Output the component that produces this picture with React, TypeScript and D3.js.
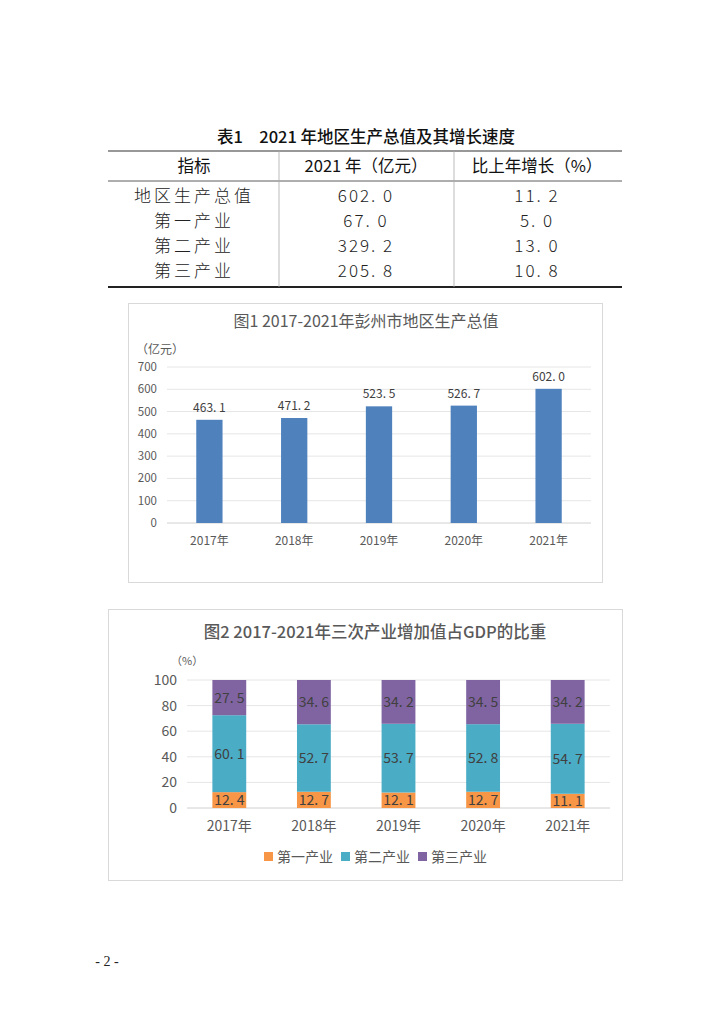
import React from 'react';
import * as d3 from 'd3';

// 表1 数据
const tableHeaders = ['指标', '2021 年（亿元）', '比上年增长（%）'];
const tableRowNames = ['地区生产总值', '第一产业', '第二产业', '第三产业'];
const tableValues = ['602.0', '67.0', '329.2', '205.8'];
const tableGrowth = ['11.2', '5.0', '13.0', '10.8'];

// 图1 数据
const years = ['2017年', '2018年', '2019年', '2020年', '2021年'];
const gdp = [463.1, 471.2, 523.5, 526.7, 602.0];
const gdpTicks = [0, 100, 200, 300, 400, 500, 600, 700];

// 图2 数据
const seriesNames = ['第一产业', '第二产业', '第三产业'];
const primary = [12.4, 12.7, 12.1, 12.7, 11.1];
const secondary = [60.1, 52.7, 53.7, 52.8, 54.7];
const tertiary = [27.5, 34.6, 34.2, 34.5, 34.2];
const shareTicks = [0, 20, 40, 60, 80, 100];

const sans = '"Noto Sans CJK SC", "Noto Sans", sans-serif';
const gray = '#595959';
const seriesColors = ['#F79646', '#4BACC6', '#8064A2'];

// 表格数字里的点后面带个空格，像原文那样
const fmtWide = (s: string) => s.replace('.', '. ');

const Table = () => {
  const rowY = [196, 221, 246, 271];
  const colX = [194, 366, 537];
  return (
    <g>
      <text x={366} y={143} textAnchor="middle" fontFamily={sans} fontSize={16.5} fontWeight={500} fill="#111">
        表1　2021 年地区生产总值及其增长速度
      </text>
      <line x1={108} x2={622} y1={151} y2={151} stroke="#333" strokeWidth={1.2} />
      <line x1={108} x2={622} y1={181} y2={181} stroke="#333" strokeWidth={0.8} />
      <line x1={108} x2={622} y1={287} y2={287} stroke="#222" strokeWidth={1.8} />
      <line x1={279} x2={279} y1={151} y2={287} stroke="#aaa" strokeWidth={0.8} />
      <line x1={454} x2={454} y1={151} y2={287} stroke="#aaa" strokeWidth={0.8} />
      {tableHeaders.map((h, i) => (
        <text key={h} x={colX[i]} y={172} textAnchor="middle" fontFamily={sans} fontSize={16.5} fill="#111">{h}</text>
      ))}
      {tableRowNames.map((name, i) => (
        <g key={name} fontFamily={sans} fontSize={17} fontWeight={300} fill="#222">
          <text x={colX[0]} y={rowY[i] + 6} textAnchor="middle" letterSpacing={3}>{name}</text>
          <text x={colX[1]} y={rowY[i] + 6} textAnchor="middle" letterSpacing={2}>{fmtWide(tableValues[i])}</text>
          <text x={colX[2]} y={rowY[i] + 6} textAnchor="middle" letterSpacing={2}>{fmtWide(tableGrowth[i])}</text>
        </g>
      ))}
    </g>
  );
};

const GdpChart = () => {
  const x = d3.scaleBand<string>().domain(years).range([167, 591]).paddingInner(0.69).paddingOuter(0.345);
  const y = d3.scaleLinear().domain([0, 700]).range([523, 367]);
  return (
    <g>
      <rect x={128.5} y={303.5} width={474} height={279} fill="#fff" stroke="#d9d9d9" />
      <text x={366} y={327} textAnchor="middle" fontFamily={sans} fontSize={16} fill={gray}>
        图1 2017-2021年彭州市地区生产总值
      </text>
      <text x={136} y={354} fontFamily={sans} fontSize={12} fill={gray}>（亿元）</text>
      {gdpTicks.map(t => (
        <g key={t}>
          <line x1={167} x2={591} y1={y(t)} y2={y(t)} stroke={t === 0 ? '#d0d0d0' : '#e6e6e6'} />
          <text x={157} y={y(t) + 4} textAnchor="end" fontFamily={sans} fontSize={11.5} fill={gray}>{t}</text>
        </g>
      ))}
      {gdp.map((v, i) => (
        <g key={years[i]}>
          <rect x={x(years[i])} y={y(v)} width={x.bandwidth()} height={y(0) - y(v)} fill="#4F81BD" />
          <text x={x(years[i])! + x.bandwidth() / 2} y={y(v) - 8} textAnchor="middle" fontFamily={sans} fontSize={12} fill="#404040">
            {fmtWide(v.toFixed(1))}
          </text>
          <text x={x(years[i])! + x.bandwidth() / 2} y={545} textAnchor="middle" fontFamily={sans} fontSize={12} fill={gray}>
            {years[i]}
          </text>
        </g>
      ))}
    </g>
  );
};

const ShareChart = () => {
  const x = d3.scaleBand<string>().domain(years).range([187, 610]).paddingInner(0.6).paddingOuter(0.3);
  const y = d3.scaleLinear().domain([0, 100]).range([808, 680]);
  const rows = years.map((yr, i) => ({ year: yr, s0: primary[i], s1: secondary[i], s2: tertiary[i] }));
  const stacked = d3.stack<any>().keys(['s0', 's1', 's2'])(rows);
  return (
    <g>
      <rect x={108.5} y={609.5} width={514} height={271} fill="#fff" stroke="#d9d9d9" />
      <text x={375} y={638} textAnchor="middle" fontFamily={sans} fontSize={16.5} fontWeight={500} fill={gray}>
        图2 2017-2021年三次产业增加值占GDP的比重
      </text>
      <text x={171} y={665} fontFamily={sans} fontSize={11} fill={gray}>（%）</text>
      {shareTicks.map(t => (
        <g key={t}>
          <line x1={187} x2={610} y1={y(t)} y2={y(t)} stroke={t === 0 ? '#d0d0d0' : '#e6e6e6'} />
          <text x={177} y={y(t) + 5} textAnchor="end" fontFamily={sans} fontSize={14} fill={gray}>{t}</text>
        </g>
      ))}
      {stacked.map((layer, k) => (
        <g key={layer.key}>
          {layer.map((d, i) => (
            <g key={years[i]}>
              <rect x={x(years[i])} y={y(d[1])} width={x.bandwidth()} height={y(d[0]) - y(d[1])} fill={seriesColors[k]} />
              <text x={x(years[i])! + x.bandwidth() / 2} y={y((d[0] + d[1]) / 2) + 5} textAnchor="middle"
                fontFamily={sans} fontSize={14} fill="#404040">
                {fmtWide((d[1] - d[0]).toFixed(1))}
              </text>
            </g>
          ))}
        </g>
      ))}
      {years.map(yr => (
        <text key={yr} x={x(yr)! + x.bandwidth() / 2} y={831} textAnchor="middle" fontFamily={sans} fontSize={14} fill={gray}>{yr}</text>
      ))}
      {seriesNames.map((n, i) => (
        <g key={n} transform={`translate(${264 + i * 77}, 852)`}>
          <rect x={0} y={0} width={9} height={9} fill={seriesColors[i]} />
          <text x={13} y={10} fontFamily={sans} fontSize={14} fill={gray}>{n}</text>
        </g>
      ))}
    </g>
  );
};

export default function App() {
  return (
    <div style={{ position: 'absolute', left: 0, top: 0 }}>
      <svg width={724} height={1024} style={{ display: 'block', background: '#fff' }}>
        <Table />
        <GdpChart />
        <ShareChart />
        <text x={107} y={966} textAnchor="middle" fontFamily='"Liberation Serif", serif' fontSize={14} fill="#222">- 2 -</text>
      </svg>
    </div>
  );
}
